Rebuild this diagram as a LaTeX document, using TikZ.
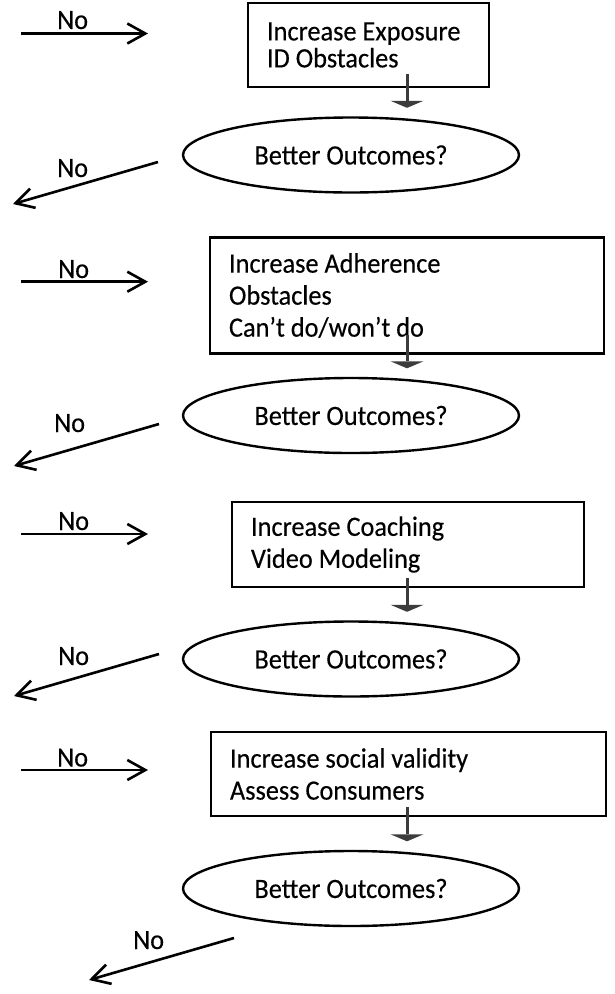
\documentclass[tikz,border=0pt]{standalone}
\usepackage{fontspec}
\setmainfont[FakeStretch=0.94,FakeBold=0.3]{Carlito}
\usetikzlibrary{arrows.meta,calc,shapes.geometric}
\definecolor{stemgray}{RGB}{60,60,60}
\begin{document}
\begin{tikzpicture}[x=1pt,y=-1pt,
  every node/.style={font=\fontsize{28}{32}\selectfont},
  stepbox/.style={draw, line width=2.6pt, rectangle, anchor=north west,
    align=flush left, inner xsep=19pt, inner ysep=0pt, outer sep=0pt},
  question/.style={draw, ellipse, line width=2.4pt, minimum width=336pt,
    minimum height=75pt, inner sep=0pt},
  nolabel/.style={anchor=base west, inner sep=0pt},
  noarrow/.style={line width=2.6pt, -{Straight Barb[length=18pt,width=20pt]}},
  flow/.style={line width=3pt, draw=stemgray,
    -{Triangle[width=33pt,length=7pt,line width=0pt,fill=stemgray]}}]
\useasboundingbox (0,0) rectangle (615,994);

% x position of the vertical flow arrows
\coordinate (sx) at (407,0);

% ---- step 1 ----
\node[stepbox, minimum width=241pt, minimum height=84pt, text width=203pt,
  font=\fontsize{28}{27}\selectfont] (b1) at (248,3)
  {Increase Exposure\\ID Obstacles};
\node[question] (e1) at (351,155) {Better Outcomes?};
\draw[flow] ($(b1.south -| sx)+(0,-13)$) -- ($(e1.north -| sx)+(0,-8.5)$);

\coordinate (r1s) at (21,33.5);
\coordinate (r1e) at (148,33.5);
\draw[noarrow] (r1s) -- (r1e);
\node[nolabel] (n1) at (57,29) {No};

\coordinate (l1s) at (158,162);
\coordinate (l1e) at (13,204);
\draw[noarrow] (l1s) -- (l1e);
\node[nolabel] (m1) at (57,177) {No};

% ---- step 2 ----
\node[stepbox, minimum width=394pt, minimum height=116pt, text width=356pt]
  (b2) at (210,237.5)
  {Increase Adherence\\Obstacles\\Can’t do/won’t do};
\node[question] (e2) at (351,415.5) {Better Outcomes?};
\draw[flow] ($(b2.south -| sx)+(0,-18.5)$) -- ($(e2.north -| sx)+(0,-8.5)$);

\coordinate (r2s) at (21,281.7);
\coordinate (r2e) at (148,281.7);
\draw[noarrow] (r2s) -- (r2e);
\node[nolabel] (n2) at (58,278) {No};

\coordinate (l2s) at (159,424);
\coordinate (l2e) at (14,466);
\draw[noarrow] (l2s) -- (l2e);
\node[nolabel] (m2) at (54,432) {No};

% ---- step 3 ----
\node[stepbox, minimum width=352pt, minimum height=85pt, text width=314pt]
  (b3) at (232,502)
  {Increase Coaching\\Video Modeling};
\node[question] (e3) at (351,659) {Better Outcomes?};
\draw[flow] ($(b3.south -| sx)+(0,-9)$) -- ($(e3.north -| sx)+(0,-8.5)$);

\coordinate (r3s) at (21,534);
\coordinate (r3e) at (148,534);
\draw[noarrow] (r3s) -- (r3e);
\node[nolabel] (n3) at (58,530) {No};

\coordinate (l3s) at (159,654);
\coordinate (l3e) at (14,696);
\draw[noarrow] (l3s) -- (l3e);
\node[nolabel] (m3) at (58,665) {No};

% ---- step 4 ----
\node[stepbox, minimum width=395pt, minimum height=84pt, text width=357pt]
  (b4) at (211,732)
  {Increase social validity\\Assess Consumers};
\node[question] (e4) at (351,888.5) {Better Outcomes?};
\draw[flow] ($(b4.south -| sx)+(0,-9)$) -- ($(e4.north -| sx)+(0,-8.5)$);

\coordinate (r4s) at (21,770);
\coordinate (r4e) at (148,770);
\draw[noarrow] (r4s) -- (r4e);
\node[nolabel] (n4) at (57,766.5) {No};

\coordinate (l4s) at (234,938);
\coordinate (l4e) at (89,980);
\draw[noarrow] (l4s) -- (l4e);
\node[nolabel] (m4) at (133,949) {No};
\end{tikzpicture}
\end{document}
